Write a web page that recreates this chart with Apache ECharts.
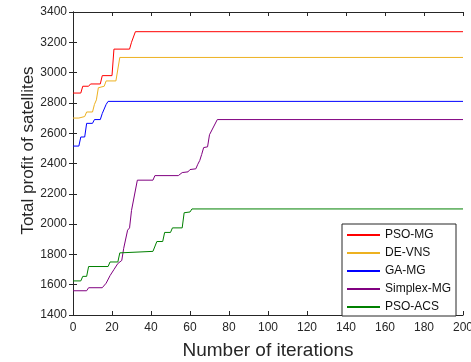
<!DOCTYPE html>
<html>
<head>
<meta charset="utf-8">
<script src="https://cdn.jsdelivr.net/npm/echarts@6/dist/echarts.min.js"></script>
<style>
  html, body { margin: 0; padding: 0; background: #fff; }
  #chart { width: 471px; height: 362px; }
</style>
</head>
<body>
<div id="chart"></div>
<script>
// series names
const seriesNames = ["PSO-MG", "DE-VNS", "GA-MG", "Simplex-MG", "PSO-ACS"];
const seriesColors = ["#FF0000", "#EDB120", "#0000FF", "#800080", "#008000"];

// iteration / profit pairs
const psoMgIter = [0, 4, 5, 8, 9, 14, 15, 20, 21, 29, 30, 31, 32, 200];
const psoMgVal = [2865, 2865, 2910, 2910, 2925, 2925, 2980, 2980, 3155, 3155, 3200, 3200, 3270, 3270];

const deVnsIter = [0, 3, 4, 6, 7, 10, 11, 12, 13, 14, 16, 17, 22, 24, 200];
const deVnsVal = [2700, 2700, 2710, 2710, 2740, 2740, 2790, 2820, 2900, 2910, 2910, 2945, 2945, 3100, 3100];

const gaMgIter = [0, 3, 4, 6, 7, 10, 11, 14, 15, 16, 17, 18, 200];
const gaMgVal = [2515, 2515, 2575, 2575, 2665, 2665, 2690, 2690, 2730, 2735, 2790, 2810, 2810];

const simplexIter = [0, 7, 8, 15, 17, 18, 19, 20, 21, 22, 23, 25, 26, 27, 28, 29, 30, 31, 33, 41, 42, 54, 56, 59, 60, 63, 64, 65, 66, 67, 69, 70, 71, 74, 200];
const simplexVal = [1560, 1560, 1580, 1580, 1610, 1620, 1660, 1670, 1700, 1710, 1740, 1760, 1840, 1845, 1960, 1975, 2090, 2100, 2290, 2290, 2320, 2320, 2340, 2345, 2360, 2365, 2395, 2420, 2460, 2505, 2510, 2590, 2595, 2690, 2690];

const psoAcsIter = [0, 4, 5, 7, 8, 18, 19, 23, 24, 41, 43, 46, 47, 50, 51, 56, 57, 60, 61, 200];
const psoAcsVal = [1625, 1625, 1655, 1655, 1720, 1720, 1750, 1750, 1810, 1820, 1885, 1885, 1945, 1945, 1975, 1975, 2075, 2080, 2100, 2100];

// axis ticks
const xMin = 0, xMax = 200, xStep = 20;
const yMin = 1400, yMax = 3400, yStep = 200;

const allIters = [psoMgIter, deVnsIter, gaMgIter, simplexIter, psoAcsIter];
const allVals = [psoMgVal, deVnsVal, gaMgVal, simplexVal, psoAcsVal];

const textColor = "#262626";
const font = "'Liberation Sans', Arial, sans-serif";

const chart = echarts.init(document.getElementById("chart"));

const boxAxis = {
  axisLine: { show: true, lineStyle: { color: textColor, width: 1 } },
  axisTick: { show: true, inside: true, length: 4, lineStyle: { color: textColor } },
  splitLine: { show: false },
};

const option = {
  animation: false,
  backgroundColor: "#fff",
  grid: { left: 73, right: 8, top: 12, bottom: 47, outerBoundsMode: "none" },
  xAxis: [
    {
      type: "value", min: xMin, max: xMax, interval: xStep,
      name: "Number of iterations", nameLocation: "middle", nameGap: 26,
      nameTextStyle: { color: textColor, fontSize: 19, fontFamily: font },
      axisLabel: { color: textColor, fontSize: 12, fontFamily: font, margin: 7, formatter: (v) => String(v) },
      ...boxAxis,
    },
    {
      type: "value", min: xMin, max: xMax, interval: xStep, position: "top",
      axisLabel: { show: false }, ...boxAxis,
    },
  ],
  yAxis: [
    {
      type: "value", min: yMin, max: yMax, interval: yStep,
      name: "Total profit of satellites", nameLocation: "middle", nameGap: 36,
      nameMoveOverlap: false,
      nameTextStyle: { color: textColor, fontSize: 17, fontFamily: font, padding: [0, 0, 0, 26] },
      axisLabel: { color: textColor, fontSize: 12, fontFamily: font, margin: 6, formatter: (v) => String(v) },
      ...boxAxis,
    },
    {
      type: "value", min: yMin, max: yMax, interval: yStep, position: "right",
      axisLabel: { show: false }, ...boxAxis,
    },
  ],
  legend: {
    orient: "vertical",
    left: 342, top: 224,
    padding: [5, 5, 3, 4],
    itemWidth: 33, itemHeight: 10, itemGap: 6,
    borderColor: textColor, borderWidth: 1, borderRadius: 0,
    backgroundColor: "#fff",
    itemStyle: { opacity: 0 },
    textStyle: { color: "#111", fontSize: 12, fontFamily: font },
    data: seriesNames,
  },
  series: seriesNames.map((name, i) => ({
    name,
    type: "line",
    symbol: "none",
    data: allIters[i].map((x, j) => [x, allVals[i][j]]),
    lineStyle: { color: seriesColors[i], width: 1 },
    itemStyle: { color: seriesColors[i] },
  })),
};

chart.setOption(option);
</script>
</body>
</html>
